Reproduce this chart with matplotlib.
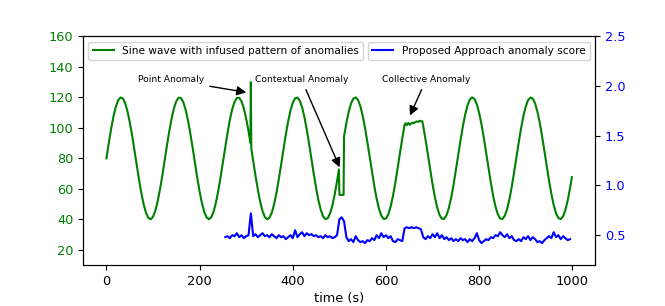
import numpy as np
import matplotlib.pyplot as plt

## Sine wave every 5 s (0..995) plus the last point at 999 s
sine_t = np.append(np.arange(0, 1000, 5), 999)
sine_v = [
    80.0, 89.9, 99.2, 107.3, 113.7, 118.0, 119.9, 119.4, 116.4, 111.1, 103.9, 95.3, 85.6,
    75.7, 66.0, 57.1, 49.7, 44.2, 40.9, 40.0, 41.6, 45.6, 51.8, 59.7, 68.8,
    78.7, 88.6, 98.0, 106.3, 112.9, 117.5, 119.8, 119.6, 116.9, 111.9, 105.0, 96.5, 87.0,
    77.0, 67.2, 58.2, 50.6, 44.8, 41.2, 40.0, 41.3, 45.0, 50.9, 58.5, 67.6,
    77.3, 87.3, 96.8, 105.3, 112.2, 117.0, 119.6, 119.7, 117.4, 112.7, 106.0, 97.7, 88.3,
    78.3, 68.5, 59.4, 51.5, 45.5, 41.5, 40.0, 41.0, 44.4, 50.0, 57.4, 66.3,
    76.0, 86.0, 95.6, 104.2, 111.3, 116.5, 119.4, 119.9, 117.8, 113.5, 107.0, 98.9, 89.6,
    79.6, 69.8, 60.5, 52.5, 46.2, 41.9, 40.1, 40.7, 43.8, 49.1, 56.3, 65.1,
    74.7, 84.7, 94.4, 103.2, 110.5, 116.0, 119.2, 120.0, 118.3, 114.2, 108.0, 100.0, 90.8,
    81.0, 71.0, 61.7, 53.5, 46.9, 42.4, 40.2, 40.5, 43.2, 48.3, 55.3, 63.8,
    73.4, 83.4, 93.1, 102.1, 109.6, 115.4, 118.9, 120.0, 118.6, 114.8, 108.9, 101.2, 92.1,
    82.3, 72.3, 62.9, 54.5, 47.6, 42.8, 40.3, 40.3, 42.7, 47.5, 54.2, 62.6,
    72.1, 82.0, 91.9, 100.9, 108.7, 114.7, 118.6, 120.0, 118.9, 115.5, 109.8, 102.3, 93.4,
    83.6, 73.7, 64.1, 55.5, 48.4, 43.3, 40.5, 40.2, 42.3, 46.7, 53.2, 61.4,
    70.8, 80.7, 90.6, 99.8, 107.8, 114.0, 118.2, 119.9, 119.2, 116.1, 110.7, 103.4, 94.6,
    84.9, 75.0, 65.3, 56.6, 49.3, 43.9, 40.8, 40.1, 41.9, 46.0, 52.3, 60.3,
    67.6,
]

## Anomalies infused into the wave
point_t = [309, 310, 311]
point_v = [90.2, 130.0, 86.3]
context_t = [499, 500, 509, 510]
context_v = [72.7, 56.0, 56.0, 94.4]
collective_t = [640, 642, 645, 648, 651, 654, 657, 660, 663, 666, 669, 672, 675, 678]
collective_v = [102.1, 103.0, 101.8, 103.2, 102.0, 102.9, 103.4, 103.0, 103.8, 104.2,
                103.9, 104.6, 104.3, 104.3]

## Anomaly score of the proposed approach (right axis)
score_t = np.arange(255, 1000, 5)
score_v = [
    0.48, 0.49, 0.47, 0.50, 0.49, 0.52, 0.48, 0.50, 0.47, 0.49,
    0.50, 0.72, 0.49, 0.51, 0.48, 0.50, 0.52, 0.49, 0.50, 0.48,
    0.51, 0.49, 0.47, 0.50, 0.48, 0.49, 0.46, 0.48, 0.50, 0.47,
    0.55, 0.48, 0.51, 0.53, 0.49, 0.52, 0.50, 0.51, 0.49, 0.50,
    0.48, 0.49, 0.47, 0.50, 0.48, 0.49, 0.47, 0.48, 0.50, 0.66,
    0.68, 0.64, 0.48, 0.44, 0.46, 0.43, 0.49, 0.45, 0.43, 0.44,
    0.42, 0.45, 0.44, 0.47, 0.45, 0.50, 0.47, 0.52, 0.48, 0.50,
    0.47, 0.49, 0.44, 0.43, 0.46, 0.45, 0.44, 0.57, 0.58, 0.57,
    0.58, 0.57, 0.58, 0.57, 0.56, 0.48, 0.46, 0.49, 0.47, 0.51,
    0.48, 0.52, 0.47, 0.50, 0.46, 0.48, 0.45, 0.47, 0.44, 0.46,
    0.44, 0.47, 0.45, 0.46, 0.43, 0.46, 0.44, 0.47, 0.52, 0.45,
    0.42, 0.44, 0.46, 0.45, 0.48, 0.47, 0.50, 0.49, 0.53, 0.50,
    0.48, 0.51, 0.47, 0.49, 0.45, 0.44, 0.46, 0.44, 0.48, 0.46,
    0.49, 0.45, 0.48, 0.46, 0.43, 0.44, 0.42, 0.45, 0.47, 0.49,
    0.47, 0.53, 0.48, 0.50, 0.46, 0.49, 0.47, 0.45, 0.46,
]

# Put the anomalies into the wave (drop grid points inside each window)
wave = list(zip(sine_t, sine_v))
for at, av in [(point_t, point_v), (context_t, context_v), (collective_t, collective_v)]:
    wave = [p for p in wave if p[0] < at[0] or p[0] > at[-1]] + list(zip(at, av))
    wave.sort()
wave_t = [p[0] for p in wave]
wave_v = [p[1] for p in wave]

fs = 9.3
fig = plt.figure(figsize=(6.65, 3.06), dpi=100)
ax1 = fig.add_axes([0.125, 0.134, 0.77, 0.747])
ax2 = ax1.twinx()

ax1.plot(wave_t, wave_v, color='green', lw=1.5, label='Sine wave with infused pattern of anomalies')
ax2.plot(score_t, score_v, color='blue', lw=1.5, label='Proposed Approach anomaly score')

ax1.set_xlim(-50, 1049)
ax1.set_ylim(10, 160)
ax1.set_yticks(range(20, 161, 20))
ax2.set_ylim(0.2, 2.5)
ax2.set_yticks([0.5, 1.0, 1.5, 2.0, 2.5])

ax1.set_xlabel('time (s)', fontsize=fs, labelpad=3)
ax1.tick_params(axis='x', labelsize=fs)
ax1.tick_params(axis='y', labelsize=fs, labelcolor='green')
ax2.tick_params(axis='y', labelsize=fs, labelcolor='blue')

ax1.legend(loc='upper left', fontsize=7.6)
ax2.legend(loc='upper right', fontsize=7.6)

## Arrows pointing at the anomalies
arrow = dict(arrowstyle='-|>', color='black', lw=1, mutation_scale=14)
ax1.annotate('Point Anomaly', xy=(306, 123), xytext=(139, 131.5), fontsize=6.6,
             ha='center', va='center', arrowprops=arrow)
ax1.annotate('Contextual Anomaly', xy=(503, 72.4), xytext=(419, 131.5), fontsize=6.6,
             ha='center', va='center', arrowprops=arrow)
ax1.annotate('Collective Anomaly', xy=(649, 106.4), xytext=(686, 131.5), fontsize=6.6,
             ha='center', va='center', arrowprops=arrow)

fig.savefig('out.png', dpi=100)
